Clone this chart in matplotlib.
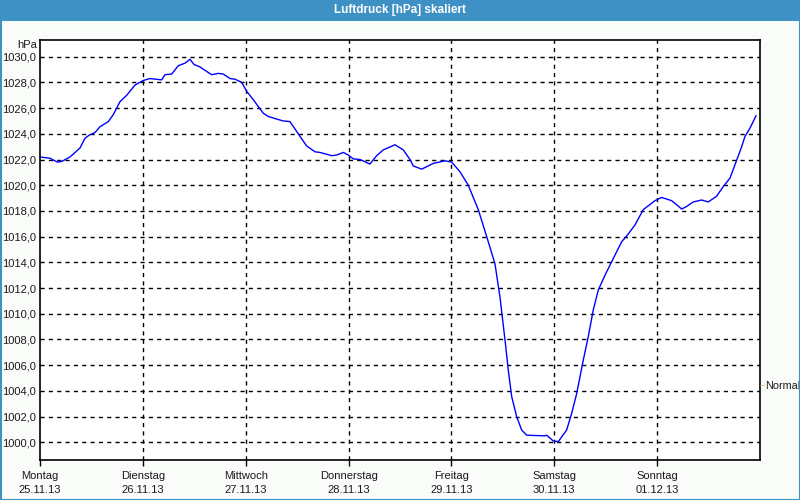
import matplotlib
matplotlib.use("Agg")
import matplotlib.pyplot as plt
from matplotlib.patches import Rectangle

plt.rcParams['font.family'] = ['Liberation Sans', 'DejaVu Sans']

# time in days since Monday 00:00, pressure in hPa
days = [0.000, 0.097, 0.168, 0.211, 0.292, 0.389, 0.437, 0.479, 0.535, 0.583,
        0.664, 0.713, 0.778, 0.843, 0.924, 1.004, 1.069, 1.183, 1.215, 1.280,
        1.345, 1.410, 1.458, 1.497, 1.556, 1.621, 1.669, 1.733, 1.782, 1.847,
        1.896, 1.961, 2.010, 2.074, 2.171, 2.220, 2.301, 2.365, 2.430, 2.528,
        2.593, 2.674, 2.722, 2.836, 2.884, 2.949, 2.997, 3.046, 3.111, 3.208,
        3.273, 3.338, 3.451, 3.532, 3.597, 3.629, 3.711, 3.824, 3.937, 4.003,
        4.083, 4.164, 4.261, 4.343, 4.423, 4.472, 4.521, 4.553, 4.586, 4.634,
        4.683, 4.732, 4.910, 4.926, 4.990, 5.039, 5.120, 5.169, 5.218, 5.282,
        5.330, 5.379, 5.428, 5.493, 5.558, 5.655, 5.704, 5.784, 5.865, 5.914,
        5.979, 6.044, 6.141, 6.239, 6.287, 6.351, 6.433, 6.497, 6.579, 6.643,
        6.708, 6.757, 6.822, 6.854, 6.903, 6.961]
pressure = [1022.2, 1022.1, 1021.8, 1021.85, 1022.2, 1022.9, 1023.65, 1023.9, 1024.1, 1024.55,
            1024.95, 1025.5, 1026.5, 1027.0, 1027.8, 1028.15, 1028.3, 1028.2, 1028.6, 1028.65,
            1029.3, 1029.5, 1029.8, 1029.4, 1029.2, 1028.85, 1028.6, 1028.7, 1028.65, 1028.3,
            1028.25, 1028.0, 1027.3, 1026.65, 1025.6, 1025.35, 1025.15, 1025.0, 1024.95, 1023.8,
            1023.05, 1022.6, 1022.55, 1022.3, 1022.35, 1022.55, 1022.35, 1022.05, 1022.0, 1021.65,
            1022.3, 1022.75, 1023.15, 1022.75, 1022.0, 1021.5, 1021.25, 1021.7, 1021.9, 1021.8,
            1021.05, 1020.0, 1018.1, 1016.0, 1013.9, 1011.3, 1007.95, 1005.6, 1003.55, 1002.0,
            1000.95, 1000.55, 1000.5, 1000.55, 1000.1, 1000.05, 1000.95, 1002.25, 1003.8, 1006.4,
            1008.2, 1010.3, 1011.85, 1013.0, 1014.05, 1015.6, 1016.05, 1016.9, 1018.1, 1018.4,
            1018.8, 1019.05, 1018.8, 1018.15, 1018.35, 1018.7, 1018.85, 1018.7, 1019.15, 1019.9,
            1020.55, 1021.6, 1023.0, 1023.8, 1024.45, 1025.4]

weekdays = ["Montag", "Dienstag", "Mittwoch", "Donnerstag", "Freitag", "Samstag", "Sonntag"]
dates = ["25.11.13", "26.11.13", "27.11.13", "28.11.13", "29.11.13", "30.11.13", "01.12.13"]
y_ticks = list(range(1000, 1031, 2))
normal_value = 1004.45

bar_blue = "#3d91c4"
bg = "#f9fcf9"
txt = "#1a1a1a"

fig = plt.figure(figsize=(8, 5), dpi=100, facecolor=bg)

# title bar and frame
fig.patches.append(Rectangle((0, 1 - 21 / 500), 1, 21 / 500, transform=fig.transFigure,
                             facecolor=bar_blue, edgecolor="none", zorder=0))
fig.patches.append(Rectangle((0.5 / 800, 0.5 / 500), 799 / 800, 1 - 1 / 500, transform=fig.transFigure,
                             facecolor="none", edgecolor=bar_blue, linewidth=1.5, zorder=0))
fig.text(0.5, 1 - 10.5 / 500, "Luftdruck [hPa] skaliert", color="white", fontsize=8.5,
         fontweight="bold", ha="center", va="center")

ax = fig.add_axes([40 / 800, 40 / 500, 720 / 800, 420 / 500])
ax.set_facecolor("white")
ax.plot(days, pressure, color="#0000ff", linewidth=1, zorder=3)

ax.set_xlim(0, 7)
ax.set_ylim(998.62, 1031.3)

ax.set_yticks(y_ticks)
ax.set_yticklabels([f"{v:.1f}".replace(".", ",") for v in y_ticks])
ax.set_xticks(range(7))
ax.set_xticklabels([f"{w}\n{d}" for w, d in zip(weekdays, dates)], linespacing=1.5)

ax.tick_params(axis="y", length=0, pad=3, labelsize=8, labelcolor=txt)
ax.tick_params(axis="x", length=4, width=1, direction="out", pad=4, labelsize=8, labelcolor=txt)

for v in y_ticks:
    ax.axhline(v, color="black", linestyle=(0, (3, 3)), linewidth=1, zorder=1)
for d in range(1, 7):
    ax.axvline(d, color="black", linestyle=(0, (3, 3)), linewidth=1, zorder=1)

for s in ax.spines.values():
    s.set_color("black")
    s.set_linewidth(1.2)

ax.text(-0.004, 1.0, "hPa", transform=ax.transAxes, ha="right", va="top",
        fontsize=8, color=txt)

# "Normal" marker on the right side
ax2 = ax.twinx()
ax2.set_ylim(ax.get_ylim())
ax2.set_yticks([normal_value])
ax2.set_yticklabels(["Normal"])
ax2.tick_params(axis="y", length=3, color="#f0c080", pad=1, labelsize=7.8, labelcolor=txt)
for s in ax2.spines.values():
    s.set_visible(False)

fig.savefig("out.png", dpi=100, facecolor=bg)
